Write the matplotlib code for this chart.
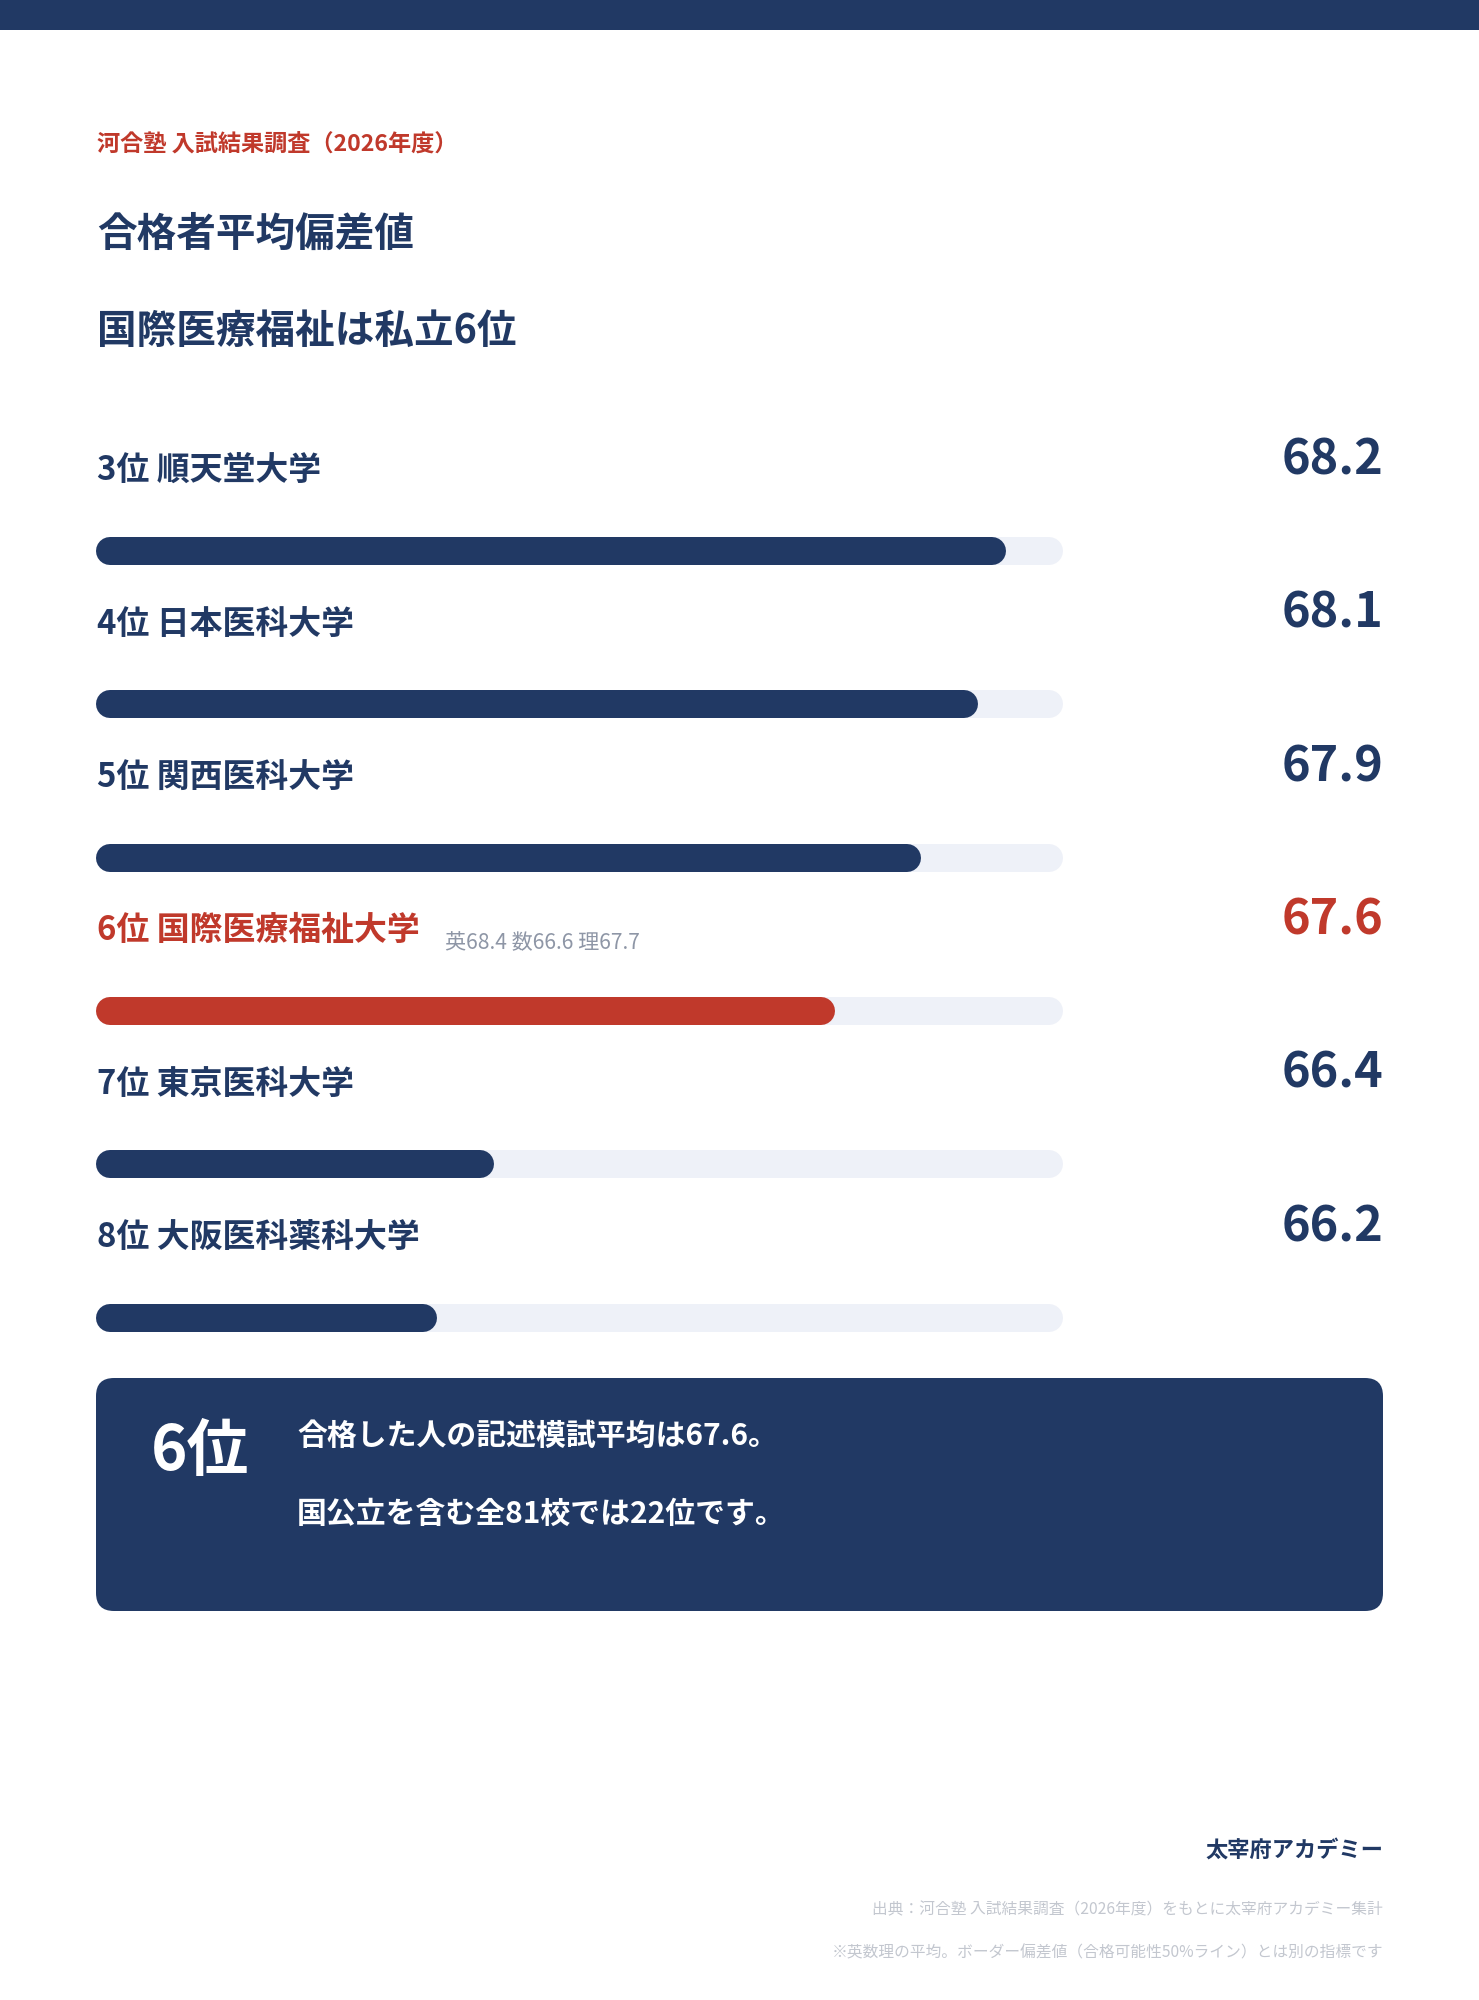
import matplotlib
matplotlib.use("Agg")
import matplotlib.pyplot as plt
from matplotlib.patches import FancyBboxPatch, Rectangle

plt.rcParams['font.family'] = ['Noto Sans CJK JP', 'DejaVu Sans']

############ data ##################
ranks = ["3位", "4位", "5位", "6位", "7位", "8位"]
schools = ["順天堂大学", "日本医科大学", "関西医科大学", "国際医療福祉大学", "東京医科大学", "大阪医科薬科大学"]
scores = [68.2, 68.1, 67.9, 67.6, 66.4, 66.2]
highlight = "国際医療福祉大学"
sub_scores = "英68.4 数66.6 理67.7"
scale_min, scale_max = 65.0, 68.4

NAVY = "#213964"
RED = "#C0392B"
TRACK = "#EEF1F8"
GRAY = "#8E96A6"
LIGHT = "#C3C7CF"

W, H = 1479, 2000
fig = plt.figure(figsize=(W / 100, H / 100), dpi=100)
ax = fig.add_axes([0, 0, 1, 1])
ax.set_xlim(0, W)
ax.set_ylim(H, 0)
ax.axis("off")

# top band
ax.add_patch(Rectangle((0, 0), W, 30, color=NAVY, lw=0))

# header
ax.text(97, 145, "河合塾 入試結果調査（2026年度）", color=RED, fontsize=16.7,
        fontweight="bold", va="center", ha="left")
ax.text(97, 234, "合格者平均偏差値", color=NAVY, fontsize=28.5,
        fontweight="bold", va="center", ha="left")
ax.text(97, 331, "国際医療福祉は私立6位", color=NAVY, fontsize=28.5,
        fontweight="bold", va="center", ha="left")

############ bars ##################
x0, x1 = 96, 1063
bar_h = 28
bar_pts = bar_h * 72 / 100
label_y0 = 471
step = 153.3

for i, (rk, sc, v) in enumerate(zip(ranks, schools, scores)):
    col = RED if sc == highlight else NAVY
    ly = label_y0 + i * step
    ax.text(97, ly, rk + " " + sc, color=col, fontsize=23.7,
            fontweight="bold", va="center", ha="left")
    ax.text(1383, ly - 11, "%.1f" % v, color=col, fontsize=35,
            fontweight="bold", va="center", ha="right")
    if sc == highlight:
        ax.text(445, ly + 12, sub_scores, color=GRAY, fontsize=15.2,
                va="center", ha="left")
    by = ly + 80
    r = bar_h / 2
    ax.plot([x0 + r, x1 - r], [by, by], color=TRACK, lw=bar_pts,
            solid_capstyle="round")
    frac = (v - scale_min) / (scale_max - scale_min)
    xe = x0 + frac * (x1 - x0)
    ax.plot([x0 + r, xe - r], [by, by], color=col, lw=bar_pts,
            solid_capstyle="round")

############ summary box ##################
box = FancyBboxPatch((96 + 18, 1378 + 18), 1383 - 96 - 36, 1611 - 1378 - 36,
                     boxstyle="round,pad=18", fc=NAVY, ec="none")
ax.add_patch(box)
ax.text(151, 1451, "6位", color="white", fontsize=44.5, fontweight="bold",
        va="center", ha="left")
ax.text(297, 1436, "合格した人の記述模試平均は67.6。", color="white", fontsize=21.5,
        fontweight="bold", va="center", ha="left")
ax.text(297, 1514, "国公立を含む全81校では22位です。", color="white", fontsize=21.5,
        fontweight="bold", va="center", ha="left")

############ footer ##################
ax.text(1383, 1850, "太宰府アカデミー", color=NAVY, fontsize=16, fontweight="bold",
        va="center", ha="right")
ax.text(1383, 1910, "出典：河合塾 入試結果調査（2026年度）をもとに太宰府アカデミー集計",
        color=LIGHT, fontsize=11.3, va="center", ha="right")
ax.text(1383, 1953, "※英数理の平均。ボーダー偏差値（合格可能性50%ライン）とは別の指標です",
        color=LIGHT, fontsize=11.3, va="center", ha="right")

fig.savefig("out.png", dpi=100, facecolor="white")
